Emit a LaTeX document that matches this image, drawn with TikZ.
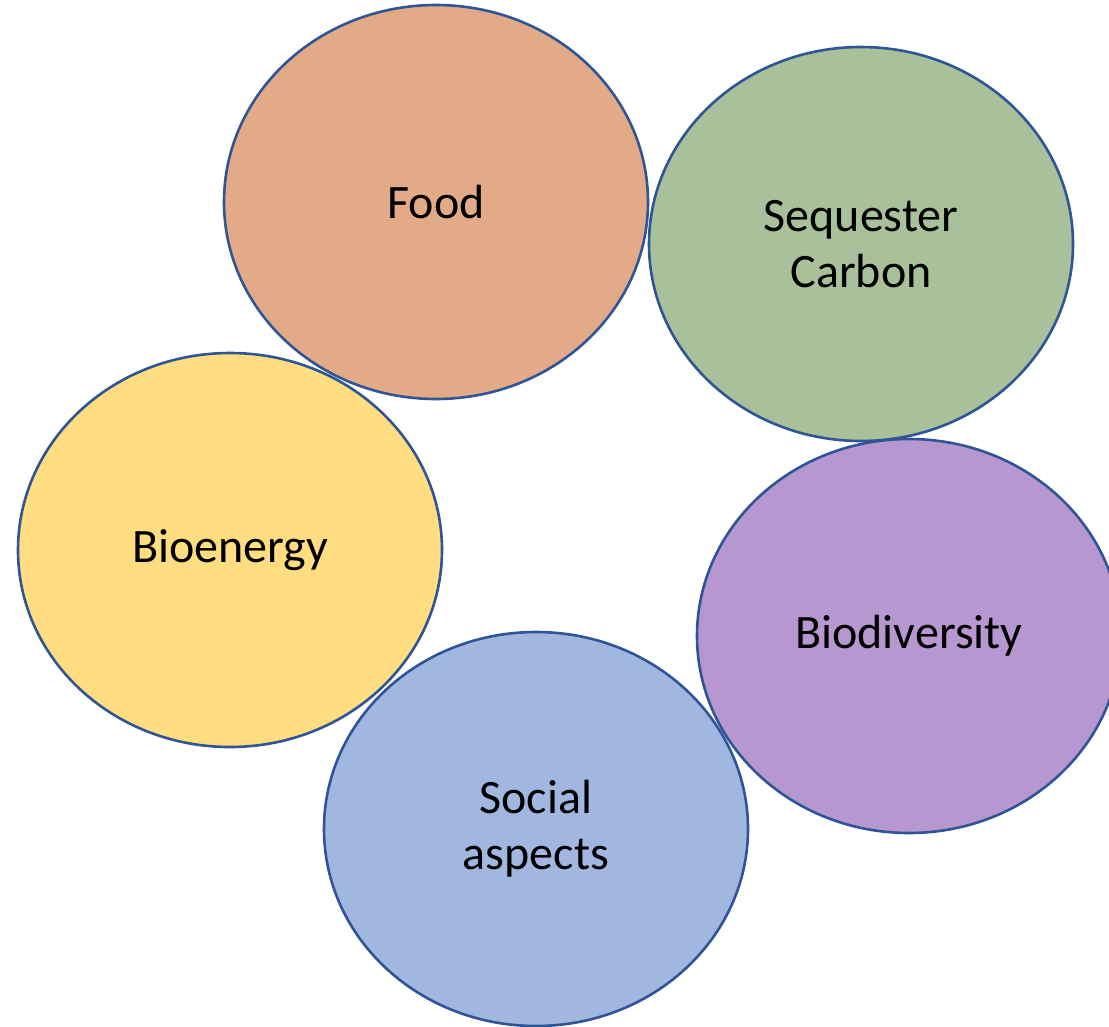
\documentclass[tikz,border=0pt]{standalone}
\usepackage{fontspec}
\setmainfont{Carlito}
\usetikzlibrary{shapes.geometric}
\definecolor{bordc}{HTML}{2F5597}
\definecolor{foodc}{HTML}{E2AA87}
\definecolor{seqc}{HTML}{A9C19A}
\definecolor{bioc}{HTML}{FFDD80}
\definecolor{divc}{HTML}{B697CF}
\definecolor{socc}{HTML}{A1B7E0}
\tikzset{
  bubble/.style={ellipse, draw=bordc, line width=2.6pt, minimum width=424pt, minimum height=394pt,
    inner sep=0pt, align=center, text=black,
    font=\fontsize{48}{56}\selectfont}
}
\begin{document}
\begin{tikzpicture}[x=1pt,y=-1pt]
\useasboundingbox[fill=white] (0,0) rectangle (1109,1026);
\node[bubble, fill=foodc] (food) at (436,202) {\raisebox{-3pt}{Food}};
\node[bubble, fill=seqc] (seq) at (861,244) {\raisebox{-3pt}{Sequester}\\\raisebox{-3pt}{Carbon}};
\node[bubble, fill=bioc] (bio) at (230,550) {\raisebox{-3pt}{Bioenergy}};
\node[bubble, fill=divc] (div) at (909,636) {\raisebox{-3pt}{Biodiversity}};
\node[bubble, fill=socc] (soc) at (536,829) {\raisebox{-3pt}{Social}\\\raisebox{-3pt}{aspects}};
\end{tikzpicture}
\end{document}
